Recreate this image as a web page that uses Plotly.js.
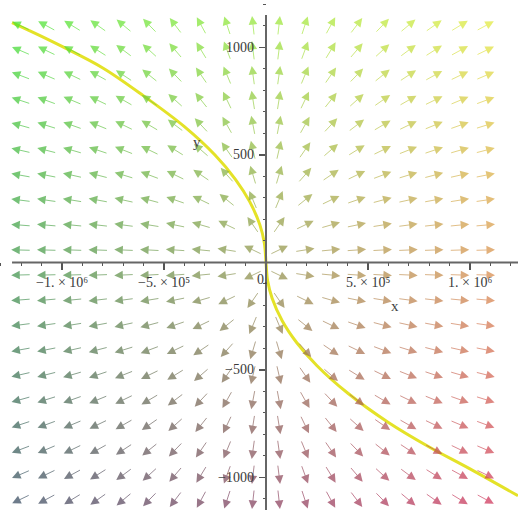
<!DOCTYPE html>
<html>
<head>
<meta charset="utf-8">
<script src="https://cdn.plot.ly/plotly-3.0.1.min.js"></script>
<style>html,body{margin:0;padding:0;background:#fff;}#plot{width:518px;height:510px;}</style>
</head>
<body>
<div id="plot"></div>
<script>
// ---- data ----
// grid positions of the direction-field arrows
const xGrid = [-1200000,-1073684,-947368,-821053,-694737,-568421,-442105,-315789,-189474,-63158,
               63158,189474,315789,442105,568421,694737,821053,947368,1073684,1200000];
const yGrid = [-1100,-984.2,-868.4,-752.6,-636.8,-521.1,-405.3,-289.5,-173.7,-57.9,
               57.9,173.7,289.5,405.3,521.1,636.8,752.6,868.4,984.2,1100];
// field of the system  dx/dt = a*x , dy/dt = b*y
const fieldA = 2, fieldB = 1;
// solution curve
const curveX = [-1245000,-1100000,-1000000,-800000,-600000,-400000,-250000,-150000,-80000,-30000,-8000,0,
                8000,30000,80000,150000,250000,400000,600000,800000,1000000,1235000];
const curveY = [1116,1052,1005,905,775,632,500,387,283,175,90,0,
                -85,-166,-272,-372,-480,-607,-744,-858,-960,-1085];
// ticks
const xTickVals = [-1000000,-500000,500000,1000000];
const xTickText = ['\u22121. \u00d7 10\u2076','\u22125. \u00d7 10\u2075','5. \u00d7 10\u2075','1. \u00d7 10\u2076'];
const yTickVals = [-1000,-500,500,1000];
const yTickText = ['\u22121000','\u2212500','500','1000'];

// ---- layout geometry ----
const W = 518, H = 510;
const xRange = [-1303900, 1235300];
const yRange = [-1151.2, 1220.9];
const xView = [-1245000, 1235300];
const yView = [-1151.2, 1151.2];
const sx = W / (xRange[1] - xRange[0]);
const sy = H / (yRange[1] - yRange[0]);

// corner colours (TL, TR, BL, BR)
const cTL=[70,226,50], cTR=[234,234,60], cBL=[55,75,95], cBR=[214,50,88];
function mix(a,b,t){return a.map((v,i)=>v+(b[i]-v)*t);}
function colorAt(i,j){ // i: x index, j: y index
  const tx=i/(xGrid.length-1), ty=j/(yGrid.length-1);
  const top=mix(cTL,cTR,tx), bot=mix(cBL,cBR,tx);
  const c=mix(bot,top,ty).map(Math.round);
  return 'rgba('+c[0]+','+c[1]+','+c[2]+',0.72)';
}

const L = 20; // arrow length in px
const annotations = [];
xGrid.forEach((xc,i)=>{
  yGrid.forEach((yc,j)=>{
    const u = fieldA*xc*sx, v = -fieldB*yc*sy; // screen direction (down positive)
    const n = Math.hypot(u,v) || 1;
    const ux = u/n, uy = v/n;
    const xh = xc + (L/2)*ux/sx;
    const yh = yc - (L/2)*uy/sy;
    annotations.push({
      x:xh, y:yh, xref:'x', yref:'y', text:'', showarrow:true,
      ax:-L*ux, ay:-L*uy, axref:'pixel', ayref:'pixel',
      arrowhead:2, arrowsize:1.9, arrowwidth:0.9, arrowcolor:colorAt(i,j), standoff:0
    });
  });
});
const serif = 'Liberation Serif, Times New Roman, serif';
const tf = {family:serif, size:14, color:'#3a3a3a'};
xTickVals.forEach((v,k)=>{
  annotations.push({x:v, y:-20.5/sy, xref:'x', yref:'y', text:xTickText[k], showarrow:false, xanchor:'center', yanchor:'middle', font:tf});
});
yTickVals.forEach((v,k)=>{
  annotations.push({x:-10/sx, y:v, xref:'x', yref:'y', text:yTickText[k], showarrow:false, xanchor:'right', yanchor:'middle', font:tf});
});
annotations.push({x:632000, y:-202, xref:'x', yref:'y', text:'x', showarrow:false, font:{family:serif,size:15,color:'#444'}});
annotations.push({x:-338000, y:560, xref:'x', yref:'y', text:'y', showarrow:false, font:{family:serif,size:15,color:'#444'}});
annotations.push({x:-19000, y:-81, xref:'x', yref:'y', text:'0.', showarrow:false, font:tf});

const traces = [{
  x: curveX, y: curveY, type:'scatter', mode:'lines',
  line:{color:'rgb(228,226,40)', width:3, shape:'spline', smoothing:1},
  hoverinfo:'skip'
}];

const layout = {
  width:W, height:H, margin:{l:0,r:0,t:0,b:0},
  paper_bgcolor:'#fff', plot_bgcolor:'#fff', showlegend:false,
  xaxis:{range:xRange, anchor:'free', position:(0-yRange[0])/(yRange[1]-yRange[0]),
    showgrid:false, zeroline:false, showline:false, ticks:'outside', ticklen:7, tickwidth:1.3, tickcolor:'#555',
    tickmode:'array', tickvals:xTickVals, showticklabels:false,
    minor:{tickmode:'linear', tick0:0, dtick:100000, ticks:'outside', ticklen:3, tickwidth:1, tickcolor:'#555', showgrid:false}},
  yaxis:{range:yRange, anchor:'free', position:(0-xRange[0])/(xRange[1]-xRange[0]),
    showgrid:false, zeroline:false, showline:false, ticks:'outside', ticklen:7, tickwidth:1.3, tickcolor:'#555',
    tickmode:'array', tickvals:yTickVals, showticklabels:false,
    minor:{tickmode:'linear', tick0:0, dtick:100, ticks:'outside', ticklen:3, tickwidth:1, tickcolor:'#555', showgrid:false}},
  shapes:[
    {type:'line', xref:'x', yref:'y', x0:xView[0], x1:xView[1], y0:0, y1:0, line:{color:'#666', width:2}, layer:'above'},
    {type:'line', xref:'x', yref:'y', x0:0, x1:0, y0:yView[0], y1:yView[1], line:{color:'#666', width:2}, layer:'above'}
  ],
  annotations: annotations
};
Plotly.newPlot('plot', traces, layout, {displayModeBar:false, staticPlot:true});
</script>
</body>
</html>
